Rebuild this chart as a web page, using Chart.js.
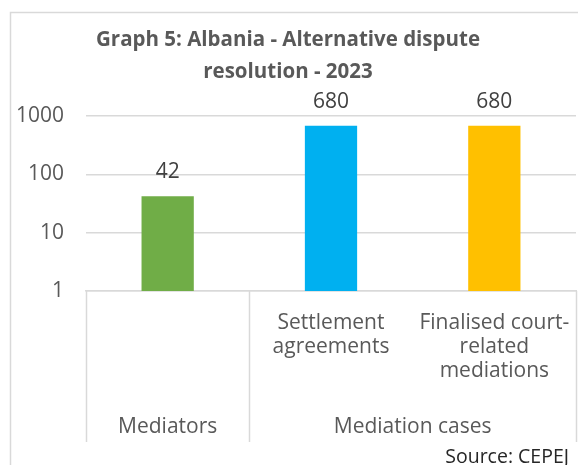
<!DOCTYPE html>
<html>
<head>
<meta charset="utf-8">
<script src="https://cdn.jsdelivr.net/npm/chart.js@4"></script>
<style>
  html, body { margin: 0; padding: 0; background: #fff; }
  #wrap { width: 578px; height: 465px; position: relative; }
</style>
</head>
<body>
<div id="wrap"><canvas id="c"></canvas></div>
<script>
// values
const titleLines = ['Graph 5: Albania - Alternative dispute', 'resolution - 2023'];
const categories = [['', 'Mediators'], ['Settlement', 'agreements'], ['Finalised court-', 'related', 'mediations']];
const values = [42, 680, 680];
const barColors = ['#70AD47', '#00B0F0', '#FFC000'];
const groupNames = ['Mediators', 'Mediation cases'];
const groupSizes = [1, 2];
const yTicks = [1, 10, 100, 1000];
const sourceText = 'Source: CEPEJ';

const FONT = "'Open Sans', sans-serif";
const GREY = '#595959';
const LINE = '#d9d9d9';

// first category has no upper label: Mediators sits in the group row
const tickLabels = categories.map(c => c[0] === '' ? '' : c);

const frame = {
  id: 'frame',
  beforeDraw(chart) {
    const { ctx } = chart;
    ctx.save();
    ctx.fillStyle = '#fff';
    ctx.fillRect(0, 0, chart.width, chart.height);
    ctx.strokeStyle = LINE;
    ctx.lineWidth = 1.5;
    ctx.strokeRect(10.5, 12.5, chart.width + 20, chart.height + 20);
    ctx.restore();
  },
};

const groups = {
  id: 'groups',
  afterDraw(chart) {
    const { ctx } = chart;
    const x = chart.scales.x;
    const top = x.top, bottom = x.bottom;
    const half = (x.getPixelForValue(1) - x.getPixelForValue(0)) / 2;
    ctx.save();
    ctx.strokeStyle = LINE;
    ctx.lineWidth = 1.5;
    let i = 0;
    const edges = [x.getPixelForValue(0) - half];
    groupSizes.forEach(n => { i += n; edges.push(x.getPixelForValue(i - 1) + half); });
    edges.forEach(px => {
      ctx.beginPath();
      ctx.moveTo(Math.round(px) + 0.5, top);
      ctx.lineTo(Math.round(px) + 0.5, bottom);
      ctx.stroke();
    });
    ctx.fillStyle = GREY;
    ctx.font = '21px ' + FONT;
    ctx.textAlign = 'center';
    ctx.textBaseline = 'middle';
    groupNames.forEach((g, k) => {
      ctx.fillText(g, (edges[k] + edges[k + 1]) / 2, bottom - 15);
    });
    // source note
    ctx.fillStyle = '#262626';
    ctx.font = '19.5px ' + FONT;
    ctx.textAlign = 'right';
    ctx.fillText(sourceText, chart.width - 9, 457);
    ctx.restore();
  },
};

const valueLabels = {
  id: 'valueLabels',
  afterDatasetsDraw(chart) {
    const { ctx } = chart;
    ctx.save();
    ctx.fillStyle = '#404040';
    ctx.font = '21px ' + FONT;
    ctx.textAlign = 'center';
    ctx.textBaseline = 'middle';
    chart.getDatasetMeta(0).data.forEach((bar, i) => {
      ctx.fillText(String(values[i]), bar.x, bar.y - 24);
    });
    ctx.restore();
  },
};

new Chart(document.getElementById('c'), {
  type: 'bar',
  data: {
    labels: tickLabels,
    datasets: [{
      data: values,
      backgroundColor: barColors,
      borderWidth: 0,
      barPercentage: 0.32,
      categoryPercentage: 1,
    }],
  },
  options: {
    responsive: true,
    maintainAspectRatio: false,
    animation: false,
    layout: { padding: { left: 0, right: 2, top: 0, bottom: 23 } },
    plugins: {
      legend: { display: false },
      tooltip: { enabled: false },
      title: {
        display: true,
        text: titleLines,
        color: GREY,
        font: { family: FONT, size: 20.5, weight: 'bold', lineHeight: 1.56 },
        padding: { top: 24, bottom: 28 },
      },
    },
    scales: {
      x: {
        grid: { display: false, drawTicks: false },
        border: { display: true, color: LINE, width: 1.5 },
        ticks: {
          color: GREY,
          font: { family: FONT, size: 21, lineHeight: 1.143 },
          padding: 20,
          maxRotation: 0,
          autoSkip: false,
        },
        afterFit(s) {
          s.height = 151;
          // long last label must not squeeze the plot
          s.paddingLeft = 0;
          s.paddingRight = 0;
        },
      },
      y: {
        type: 'logarithmic',
        min: 1,
        max: 1000,
        grid: { color: LINE, lineWidth: 1.5, drawTicks: false },
        border: { display: false },
        ticks: {
          color: GREY,
          font: { family: FONT, size: 21 },
          padding: 22,
          callback: v => String(v),
        },
        afterBuildTicks(s) { s.ticks = yTicks.map(v => ({ value: v })); },
        afterFit(s) { s.width = 86; },
      },
    },
  },
  plugins: [frame, groups, valueLabels],
});
</script>
</body>
</html>
